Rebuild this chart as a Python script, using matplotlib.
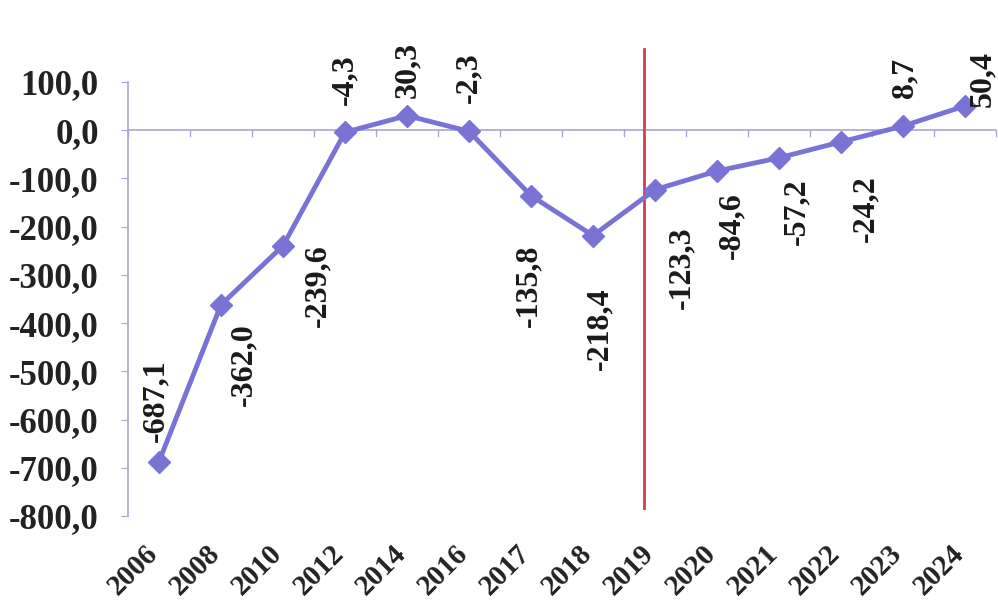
import matplotlib
matplotlib.use("Agg")
import matplotlib.pyplot as plt
import matplotlib.transforms as mtransforms
from matplotlib.ticker import FuncFormatter

years = ["2006", "2008", "2010", "2012", "2014", "2016", "2017", "2018",
         "2019", "2020", "2021", "2022", "2023", "2024"]
values = [-687.1, -362.0, -239.6, -4.3, 30.3, -2.3, -135.8, -218.4,
          -123.3, -84.6, -57.2, -24.2, 8.7, 50.4]
# label offsets (pixels) relative to each point
label_dx = [-3, 23, 35, 0, 1, 0, -2, 7, 27, 15, 18, 25, 2, 18]
label_dy = [61, -60, -40, 53, 46, 54, -90, -93, -78, -55, -54, -67, 48, 27]

plt.rcParams['font.family'] = ['Liberation Serif', 'DejaVu Serif']

fig = plt.figure(figsize=(9.98, 6.10), dpi=100)
ax = fig.add_axes([128/998, 1-516/610, 868/998, 434/610])

x = list(range(len(years)))
line_color = '#7b72d6'
ax.plot(x, values, color=line_color, lw=3.5, marker='D', markersize=11,
        markeredgecolor=line_color, markerfacecolor=line_color, zorder=3,
        clip_on=False)

def fmt(v):
    return f"{v:.1f}".replace('.', ',')

for xi, v, dx, dy in zip(x, values, label_dx, label_dy):
    ax.annotate(fmt(v), (xi, v), xytext=(dx, dy), textcoords='offset pixels',
                rotation=90, ha='center', va='center', fontsize=23,
                fontweight='bold', color='#1a1a1a', annotation_clip=False)

ax.set_xlim(-0.5, len(years) - 0.5)
ax.set_ylim(-800, 100)
ax.set_yticks(range(-800, 101, 100))
ax.yaxis.set_major_formatter(FuncFormatter(lambda v, p: fmt(v)))

spine_color = '#a9a6d0'
for s in ['top', 'right', 'bottom']:
    ax.spines[s].set_visible(False)
ax.spines['left'].set_color(spine_color)
ax.spines['left'].set_linewidth(1.2)
ax.axhline(0, color=spine_color, lw=1.2, zorder=1)
for b in range(len(years) + 1):
    ax.plot([b - 0.5, b - 0.5], [0, -12], color=spine_color, lw=1.0, zorder=1, clip_on=False)

ax.tick_params(axis='y', direction='out', length=5, color=spine_color,
               labelsize=25, pad=16)
for lbl in ax.get_yticklabels():
    lbl.set_fontweight('bold')
    lbl.set_color('#222222')

ax.set_xticks(x)
ax.set_xticklabels(years, rotation=45, ha='right', fontsize=21,
                   fontweight='bold', color='#222222')
ax.tick_params(axis='x', length=0, pad=17)
offset = mtransforms.ScaledTranslation(4/100, 0, fig.dpi_scale_trans)
for lbl in ax.get_xticklabels():
    lbl.set_transform(lbl.get_transform() + offset)

# red vertical divider
ax.plot([7.82, 7.82], [169, -783], color='#d83a4f', lw=2, clip_on=False, zorder=2)

fig.savefig("out.png", dpi=100)
